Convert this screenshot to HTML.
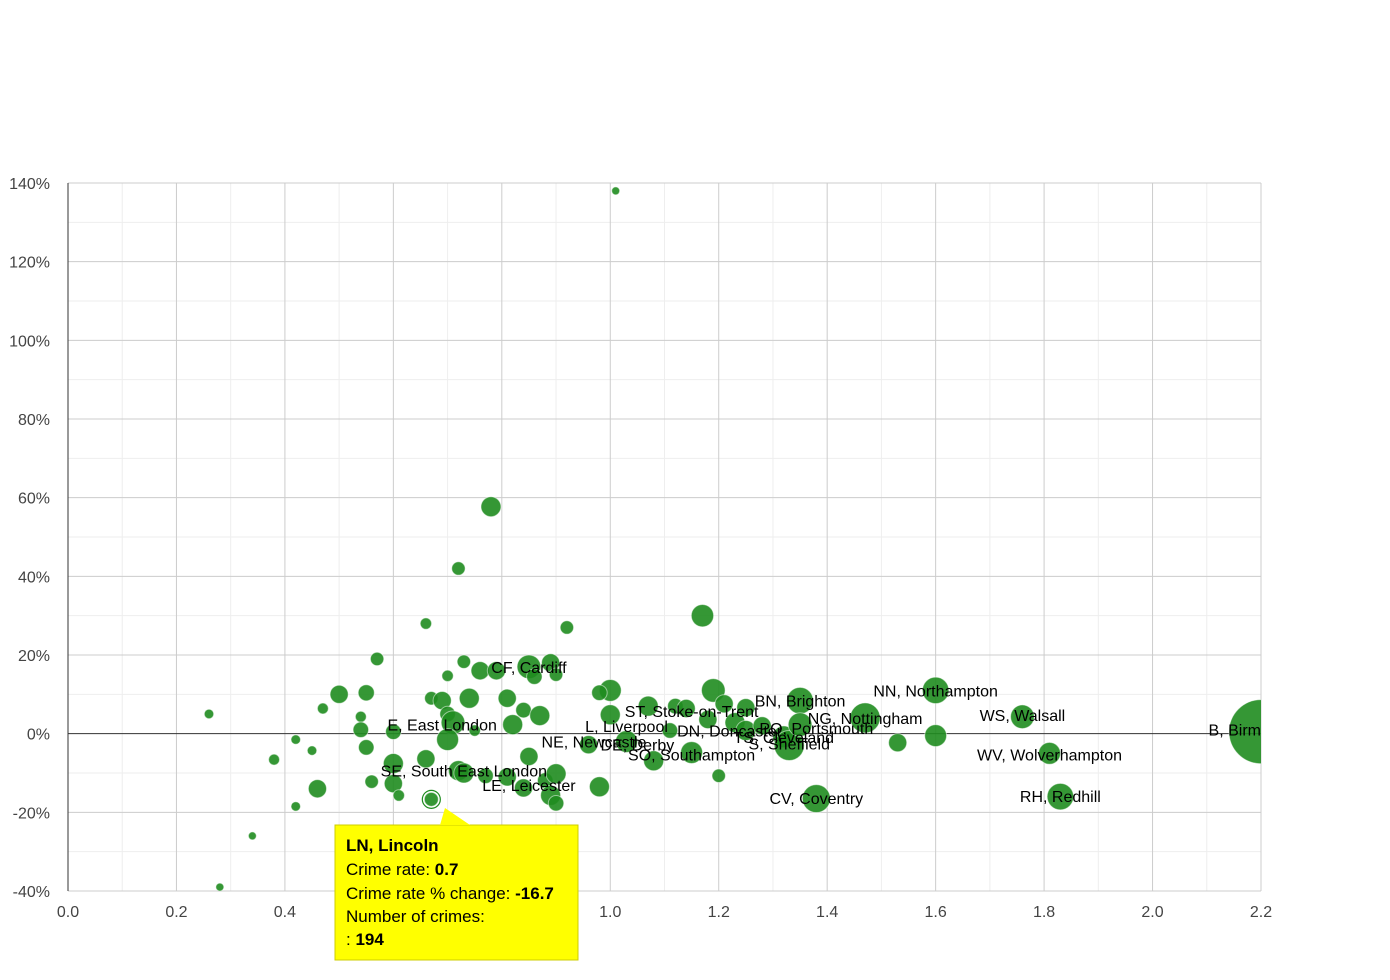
<!DOCTYPE html>
<html><head><meta charset="utf-8"><style>
body{margin:0;background:#fff;font-family:"Liberation Sans",Arial,sans-serif}
svg{display:block}
</style></head><body>
<svg id="chart" width="1390" height="980" xmlns="http://www.w3.org/2000/svg">
<defs><clipPath id="plotclip"><rect x="68" y="183" width="1193" height="708"/></clipPath></defs>
<g id="grid"></g>
<g id="axes"></g>
<g id="bubbles" clip-path="url(#plotclip)"></g>
<g id="labels" clip-path="url(#plotclip)"></g>
<g id="tooltip">
<path d="M335 825 L578 825 L578 960 L335 960 Z" fill="#ffff00" stroke="#cccc00" stroke-width="1"/>
<path d="M440 825 L445 808 L470 825 Z" fill="#ffff00"/>
<text x="346" y="851" font-size="17" font-weight="bold" fill="#000">LN, Lincoln</text>
<text x="346" y="875" font-size="17" fill="#000">Crime rate: <tspan font-weight="bold">0.7</tspan></text>
<text x="346" y="899" font-size="17" fill="#000">Crime rate % change: <tspan font-weight="bold">-16.7</tspan></text>
<text x="346" y="922" font-size="17" fill="#000">Number of crimes:</text>
<text x="346" y="945" font-size="17" fill="#000">: <tspan font-weight="bold">194</tspan></text>
</g>
</svg>
<script>
const xTicks=[0,0.2,0.4,0.6,0.8,1.0,1.2,1.4,1.6,1.8,2.0,2.2];
const xTickLabels=["0.0","0.2","0.4","0.6","0.8","1.0","1.2","1.4","1.6","1.8","2.0","2.2"];
const yTicks=[140,120,100,80,60,40,20,0,-20,-40];
const yTickLabels=["140%","120%","100%","80%","60%","40%","20%","0%","-20%","-40%"];
const rates=[1.01,0.78,0.72,0.66,0.92,1.17,0.26,0.47,0.50,0.55,0.57,0.54,0.54,0.60,0.55,0.42,0.45,0.38,0.46,0.42,0.34,0.28,0.56,0.60,0.60,0.61,0.67,0.66,0.67,0.69,0.70,0.73,0.76,0.79,0.74,0.70,0.71,0.70,0.75,0.81,0.84,0.82,0.87,0.85,0.86,0.89,0.90,0.72,0.73,0.77,0.81,0.85,0.84,0.88,0.89,0.90,0.90,0.98,1.00,0.98,1.00,0.96,1.03,1.07,1.08,1.12,1.11,1.14,1.15,1.19,1.18,1.21,1.23,1.20,1.25,1.25,1.28,1.32,1.33,1.35,1.35,1.38,1.47,1.53,1.60,1.60,1.76,1.81,1.83,2.20];
const changes=[138,57.7,42,28,27,30,5,6.4,10,10.4,19,4.3,1,0.5,-3.5,-1.5,-4.3,-6.6,-14,-18.5,-26,-39,-12.2,-7.6,-12.7,-15.7,-16.7,-6.4,9,8.4,14.7,18.3,16,16,9,5,2.8,-1.5,0.8,9,6,2.3,4.6,17,14.5,18,15,-9.4,-10,-10.7,-11,-5.8,-13.8,-11.9,-15.7,-10.2,-17.7,-13.5,11,10.4,4.8,-2.8,-2,7,-6.9,7,0.8,6.4,-4.8,11,3.6,7.6,2.8,-10.7,6.6,0.8,2,-0.8,-3,8.4,2.3,-16.5,4,-2.3,11,-0.5,4.3,-5,-16,0.5];
const crimes=[60,400,180,130,180,500,90,120,330,260,180,120,240,240,240,90,90,120,330,90,60,60,180,400,330,130,194,330,180,330,130,180,330,330,400,240,560,480,130,330,240,400,400,560,240,330,180,400,400,240,330,330,330,240,400,400,240,400,480,240,400,330,480,400,400,240,240,330,480,560,330,330,400,180,330,400,330,480,900,700,560,780,900,330,700,480,560,480,700,4100];
const labelText=["CF, Cardiff","E, East London","SE, South East London","LE, Leicester","NE, Newcastle","DE, Derby","L, Liverpool","ST, Stoke-on-Trent","DN, Doncaster","PO, Portsmouth","TS, Cleveland","S, Sheffield","SO, Southampton","BN, Brighton","NG, Nottingham","NN, Northampton","WS, Walsall","WV, Wolverhampton","RH, Redhill","CV, Coventry","B, Birmingham"];
const labelRate=[0.85,0.69,0.73,0.85,0.97,1.05,1.03,1.15,1.22,1.38,1.32,1.33,1.15,1.35,1.47,1.60,1.76,1.81,1.83,1.38,2.20];
const labelChange=[17,2.3,-9.4,-13,-2,-2.8,2,5.8,0.8,1.5,-0.8,-2.5,-5.3,8.4,4,11,4.8,-5.3,-15.8,-16.4,1];

const NS="http://www.w3.org/2000/svg";
const X0=68,X1=1261,Y0=183,Y1=891;
const xs=v=>X0+(v-0)/(2.2-0)*(X1-X0);
const ys=v=>Y1-(v-(-40))/(140-(-40))*(Y1-Y0);
const rs=c=>Math.max(4,Math.sqrt(c)*0.5);
function mk(tag,attrs,parent){const e=document.createElementNS(NS,tag);for(const k in attrs)e.setAttribute(k,attrs[k]);parent.appendChild(e);return e;}
const grid=document.getElementById('grid'),axes=document.getElementById('axes'),bub=document.getElementById('bubbles'),lab=document.getElementById('labels');
// minor grid
for(let i=0;i<xTicks.length-1;i++){const v=(xTicks[i]+xTicks[i+1])/2;const l=mk('line',{x1:xs(v),x2:xs(v),y1:Y0,y2:Y1,stroke:'#eeeeee'},grid);}
for(let i=0;i<yTicks.length-1;i++){const v=(yTicks[i]+yTicks[i+1])/2;const l=mk('line',{x1:X0,x2:X1,y1:ys(v),y2:ys(v),stroke:'#eeeeee'},grid);}
xTicks.forEach((v,i)=>{const l=mk('line',{x1:xs(v),x2:xs(v),y1:Y0,y2:Y1,stroke:'#cccccc'},grid);
const t=mk('text',{x:xs(v),y:Y1+26,'text-anchor':'middle','font-size':16,fill:'#444'},axes);t.textContent=xTickLabels[i];});
yTicks.forEach((v,i)=>{const l=mk('line',{x1:X0,x2:X1,y1:ys(v),y2:ys(v),stroke:v===0?'#333':'#cccccc'},grid);
const t=mk('text',{x:50,y:ys(v)+6,'text-anchor':'end','font-size':16,fill:'#444'},axes);t.textContent=yTickLabels[i];});
const ax=mk('line',{x1:X0,x2:X0,y1:Y0,y2:Y1,stroke:'#333'},axes);
rates.forEach((r,i)=>{const c=mk('circle',{cx:xs(r),cy:ys(changes[i]),r:rs(crimes[i]),fill:'#1f8c1f','fill-opacity':0.9,stroke:'#ffffff','stroke-opacity':0.5,'stroke-width':1},bub);
});
// highlighted Lincoln
const hi=mk('circle',{cx:xs(0.67),cy:ys(-16.7),r:9,fill:'none',stroke:'#1f8c1f','stroke-width':1.2},bub);

labelText.forEach((s,i)=>{const t=mk('text',{x:xs(labelRate[i]),y:ys(labelChange[i])+6,'text-anchor':'middle','font-size':16,fill:'#000'},lab);t.textContent=s;
});
</script>
</body></html>
